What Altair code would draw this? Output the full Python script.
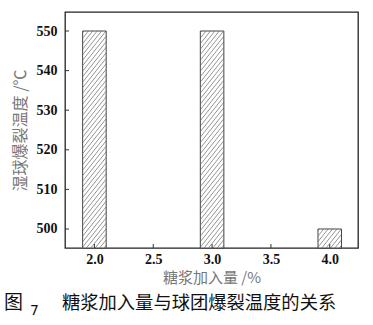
import altair as alt
import pandas as pd
import numpy as np

# data
sugar = [2.0, 3.0, 4.0]
temp = [550, 550, 500]
x_ticks = [2.0, 2.5, 3.0, 3.5, 4.0]
y_ticks = [500, 510, 520, 530, 540, 550]

XMIN, XMAX = 1.75, 4.24
YMIN, YMAX = 495.2, 554.8
W, H = 293, 236
BAR_HALF = 0.1

px_x = W / (XMAX - XMIN)
px_y = H / (YMAX - YMIN)

bars = pd.DataFrame({"x": sugar, "y": temp})
bars["x0"] = bars["x"] - BAR_HALF
bars["x1"] = bars["x"] + BAR_HALF
bars["base"] = YMIN

# hatch lines derived from the bars
rows = []
s, d = 1.25, 5.5
for xv, yv in zip(sugar, temp):
    w = 2 * BAR_HALF * px_x
    h = (yv - YMIN) * px_y
    k = -s * w + d / 2
    while k < h:
        u0 = max(0.0, -k / s)
        u1 = min(w, (h - k) / s)
        if u1 > u0:
            rows.append({
                "xa": xv - BAR_HALF + u0 / px_x,
                "ya": YMIN + (s * u0 + k) / px_y,
                "xb": xv - BAR_HALF + u1 / px_x,
                "yb": YMIN + (s * u1 + k) / px_y,
            })
        k += d
hatch = pd.DataFrame(rows)

xs = alt.Scale(domain=[XMIN, XMAX], nice=False, zero=False)
ys = alt.Scale(domain=[YMIN, YMAX], nice=False, zero=False)

label_font = "Liberation Serif"
cjk = "Noto Sans CJK SC"

bar = alt.Chart(bars).mark_bar(fill="white", stroke="#444", strokeWidth=1).encode(
    x=alt.X("x0:Q", scale=xs, axis=alt.Axis(
        values=x_ticks, format=".1f", ticks=False, domain=False, grid=False,
        labelFont=label_font, labelFontWeight="bold", labelFontSize=14,
        labelColor="#111", labelPadding=4,
        title="糖浆加入量 /%", titleFont=cjk, titleFontWeight="normal",
        titleFontSize=15, titleColor="#777", titlePadding=4)),
    x2="x1:Q",
    y=alt.Y("y:Q", scale=ys, axis=alt.Axis(
        values=y_ticks, format="d", ticks=False, domain=False, grid=False,
        labelFont=label_font, labelFontWeight="bold", labelFontSize=14,
        labelColor="#111", labelPadding=8,
        title="湿球爆裂温度 /℃", titleFont=cjk, titleFontWeight="normal",
        titleFontSize=16, titleColor="#777", titlePadding=8)),
    y2="base:Q",
)

hl = alt.Chart(hatch).mark_rule(color="#666", strokeWidth=0.7).encode(
    x=alt.X("xa:Q", scale=xs), y=alt.Y("ya:Q", scale=ys),
    x2="xb:Q", y2="yb:Q",
)

ytk = alt.Chart(pd.DataFrame({"v": y_ticks})).mark_rule(color="#333").encode(
    y=alt.Y("v:Q", scale=ys), x=alt.value(0), x2=alt.value(4))
xtk = alt.Chart(pd.DataFrame({"v": x_ticks})).mark_rule(color="#333").encode(
    x=alt.X("v:Q", scale=xs), y=alt.value(H), y2=alt.value(H - 4))

cap1 = alt.Chart(pd.DataFrame({"t": ["图"]})).mark_text(
    font=cjk, fontSize=19, align="left", baseline="alphabetic", color="#111"
).encode(text="t:N", x=alt.value(-61), y=alt.value(297))
cap2 = alt.Chart(pd.DataFrame({"t": ["7"]})).mark_text(
    font="DejaVu Sans", fontSize=14, align="left", baseline="alphabetic", color="#111"
).encode(text="t:N", x=alt.value(-35), y=alt.value(303))
cap3 = alt.Chart(pd.DataFrame({"t": ["糖浆加入量与球团爆裂温度的关系"]})).mark_text(
    font=cjk, fontSize=18.3, align="left", baseline="alphabetic", color="#111"
).encode(text="t:N", x=alt.value(-3), y=alt.value(297))

chart = alt.layer(bar, hl, ytk, xtk, cap1, cap2, cap3).properties(
    width=W, height=H,
    autosize=alt.AutoSizeParams(type="none"),
    padding={"left": 65, "top": 12, "right": 15, "bottom": 77},
).configure(background="white").configure_view(stroke="#222", strokeWidth=1.3)

chart.save("out.html", embed_options={"renderer": "svg", "actions": False})
